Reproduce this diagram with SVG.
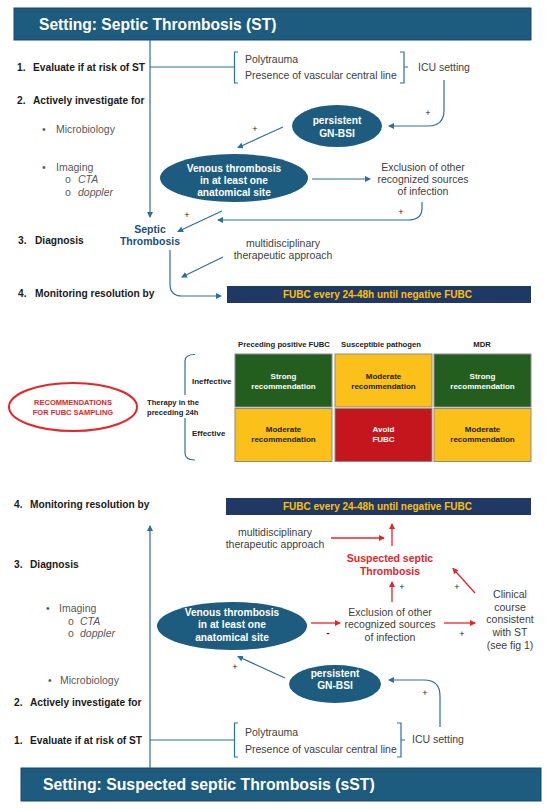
<svg xmlns="http://www.w3.org/2000/svg" width="550" height="809" viewBox="0 0 550 809">
<defs>
<marker id="ab" markerWidth="6" markerHeight="6" refX="5" refY="3" orient="auto" markerUnits="userSpaceOnUse"><path d="M0,0 L6,3 L0,6 z" fill="#2D6F9F"/></marker>
<marker id="ar" markerWidth="6" markerHeight="6" refX="5" refY="3" orient="auto" markerUnits="userSpaceOnUse"><path d="M0,0 L6,3 L0,6 z" fill="#E3262A"/></marker>
</defs>
<style>
text{font-family:"Liberation Sans",Arial,sans-serif}
.hdr{fill:#1D5B7F;stroke:#17496a;stroke-width:1}
.ht{fill:#fff;font-weight:bold}
.lb{font-weight:bold;font-size:10.2px;fill:#1a1a1a}
.gr{font-size:10.5px;fill:#595959}
.it{font-style:italic}
.br{font-size:10.5px;fill:#404040}
.ell{fill:#1D5B7F}
.et{fill:#fff;font-weight:bold;font-size:10.2px;text-anchor:middle}
.ln{fill:none;stroke:#2D6F9F;stroke-width:1.2}
.rl{fill:none;stroke:#E3262A;stroke-width:1.3}
.pl{font-size:9px;fill:#222;text-anchor:middle}
.fb{fill:#1F3864}
.ft{fill:#FFC000;font-weight:bold;font-size:10px}
.th{font-weight:bold;font-size:7.7px;fill:#222;text-anchor:middle}
.cell{stroke:#8c8c8c;stroke-width:1}
.cw{fill:#fff;font-weight:bold;font-size:8px;text-anchor:middle}
.cd{fill:#222;font-weight:bold;font-size:8px;text-anchor:middle}
.mid{text-anchor:middle}
</style>

<!-- ===== TOP SECTION ===== -->
<g id="top-header">
<rect class="hdr" x="14" y="8" width="517" height="32"/>
<text class="ht" x="39" y="29.5" font-size="15.6">Setting: Septic Thrombosis (ST)</text>
</g>

<g id="top-left-labels">
<text class="lb" x="17" y="71">1.</text><text class="lb" x="33" y="71">Evaluate if at risk of ST</text>
<text class="lb" x="17" y="104">2.</text><text class="lb" x="33" y="104">Actively investigate for</text>
<text class="gr" x="42" y="133">•</text><text class="gr" x="56" y="133">Microbiology</text>
<text class="gr" x="42" y="170.5">•</text><text class="gr" x="56" y="170.5">Imaging</text>
<text class="gr" x="65" y="182.5" font-size="9">o</text><text class="gr it" x="78" y="182.5">CTA</text>
<text class="gr" x="65" y="195.5" font-size="9">o</text><text class="gr it" x="78" y="195.5">doppler</text>
<text class="lb" x="18" y="243.5">3.</text><text class="lb" x="35" y="243.5">Diagnosis</text>
<text class="lb" x="18" y="296.5">4.</text><text class="lb" x="35" y="296.5">Monitoring resolution by</text>
</g>

<g id="top-risk-factors">
<path class="ln" d="M238,52 L234.5,52 L234.5,83 L238,83"/>
<text class="br" x="245" y="62.5">Polytrauma</text>
<text class="br" x="245" y="78.5">Presence of vascular central line</text>
<path class="ln" d="M400,52 L404,52 L404,83 L400,83 M404,67 L408,67"/>
<text class="br" x="418" y="70.5">ICU setting</text>
</g>

<g id="top-gnbsi">
<ellipse class="ell" cx="337" cy="126" rx="45" ry="21"/>
<text class="et" x="337" y="123.5">persistent</text>
<text class="et" x="337" y="136.5">GN-BSI</text>
</g>

<g id="top-venous">
<ellipse class="ell" cx="234" cy="178" rx="74" ry="24"/>
<text class="et" x="234" y="171.5">Venous thrombosis</text>
<text class="et" x="234" y="183.5">in at least one</text>
<text class="et" x="234" y="195.5">anatomical site</text>
</g>

<g id="top-exclusion">
<text class="br mid" x="423" y="170.5">Exclusion of other</text>
<text class="br mid" x="423" y="182.5">recognized sources</text>
<text class="br mid" x="423" y="194.5">of infection</text>
</g>

<g id="top-septic">
<text x="150" y="232.5" font-size="10.5" font-weight="bold" fill="#1F4E79" text-anchor="middle">Septic</text>
<text x="150" y="244.5" font-size="10.5" font-weight="bold" fill="#1F4E79" text-anchor="middle">Thrombosis</text>
</g>

<g id="top-multidisciplinary">
<text class="br mid" x="283" y="246.5">multidisciplinary</text>
<text class="br mid" x="283" y="258.5">therapeutic approach</text>
</g>

<g id="top-fubc">
<rect class="fb" x="227" y="286" width="304" height="17"/>
<text class="ft" x="283" y="298">FUBC every 24-48h until negative FUBC</text>
</g>

<g id="top-connectors">
<path class="ln" d="M150,40 L150,217" marker-end="url(#ab)"/>
<path class="ln" d="M150,67 L234.5,67"/>
<path class="ln" d="M444,80 L444,110 Q444,126 428,126 L389,126" marker-end="url(#ab)"/>
<text class="pl" x="428" y="116">+</text>
<path class="ln" d="M283,127 L238,147.5" marker-end="url(#ab)"/>
<text class="pl" x="255" y="132">+</text>
<path class="ln" d="M312,179 L370,179" marker-end="url(#ab)"/>
<path class="ln" d="M422,202 L422,208 Q422,220 408,220 L218,220" marker-end="url(#ab)"/>
<text class="pl" x="401" y="215">+</text>
<path class="ln" d="M222,211 L178,231.5" marker-end="url(#ab)"/>
<text class="pl" x="187" y="218">+</text>
<path class="ln" d="M223,257 L182,277" marker-end="url(#ab)"/>
<path class="ln" d="M170,250 L170,284 Q170,296 182,296 L221,296" marker-end="url(#ab)"/>
</g>

<!-- ===== MIDDLE SECTION ===== -->
<g id="recommendations">
<ellipse cx="73" cy="407" rx="64" ry="24" fill="none" stroke="#E3262A" stroke-width="2"/>
<text x="73" y="405" font-size="7.5" font-weight="bold" fill="#E3262A" text-anchor="middle">RECOMMENDATIONS</text>
<text x="73" y="415" font-size="7.5" font-weight="bold" fill="#E3262A" text-anchor="middle">FOR FUBC SAMPLING</text>
</g>

<g id="therapy">
<text x="147" y="405" font-size="7.6" font-weight="bold" fill="#222">Therapy in the</text>
<text x="147" y="415" font-size="7.6" font-weight="bold" fill="#222">preceding 24h</text>
<path class="ln" d="M195,354.5 Q185,354.5 185,361 L185,395 M185,418 L185,453 Q185,460 195,460"/>
<text x="192" y="384" font-size="8" font-weight="bold" fill="#222">Ineffective</text>
<text x="192" y="436" font-size="8" font-weight="bold" fill="#222">Effective</text>
</g>

<g id="table">
<text class="th" x="284" y="347">Preceding positive FUBC</text>
<text class="th" x="381" y="347">Susceptible pathogen</text>
<text class="th" x="482" y="347">MDR</text>
<rect class="cell" x="235" y="354" width="97" height="53" fill="#245E1E"/>
<rect class="cell" x="335" y="354" width="97" height="53" fill="#FBC01A"/>
<rect class="cell" x="434" y="354" width="97" height="53" fill="#245E1E"/>
<rect class="cell" x="235" y="408.5" width="97" height="53" fill="#FBC01A"/>
<rect class="cell" x="335" y="408.5" width="97" height="53" fill="#C4161C"/>
<rect class="cell" x="434" y="408.5" width="97" height="53" fill="#FBC01A"/>
<text class="cw" x="283.5" y="379">Strong</text><text class="cw" x="283.5" y="389">recommendation</text>
<text class="cd" x="383.5" y="379">Moderate</text><text class="cd" x="383.5" y="389">recommendation</text>
<text class="cw" x="482.5" y="379">Strong</text><text class="cw" x="482.5" y="389">recommendation</text>
<text class="cd" x="283.5" y="432">Moderate</text><text class="cd" x="283.5" y="442">recommendation</text>
<text class="cw" x="383.5" y="432">Avoid</text><text class="cw" x="383.5" y="442">FUBC</text>
<text class="cd" x="482.5" y="432">Moderate</text><text class="cd" x="482.5" y="442">recommendation</text>
</g>

<!-- ===== BOTTOM SECTION ===== -->
<g id="bottom-left-labels">
<text class="lb" x="14" y="507.5">4.</text><text class="lb" x="30" y="507.5">Monitoring resolution by</text>
<text class="lb" x="14" y="567.5">3.</text><text class="lb" x="30" y="567.5">Diagnosis</text>
<text class="gr" x="46" y="611.5">•</text><text class="gr" x="59" y="611.5">Imaging</text>
<text class="gr" x="68" y="624.5" font-size="9">o</text><text class="gr it" x="80" y="624.5">CTA</text>
<text class="gr" x="68" y="636.5" font-size="9">o</text><text class="gr it" x="80" y="636.5">doppler</text>
<text class="gr" x="48" y="683.5">•</text><text class="gr" x="60" y="683.5">Microbiology</text>
<text class="lb" x="14" y="705.5">2.</text><text class="lb" x="30" y="705.5">Actively investigate for</text>
<text class="lb" x="14" y="743.5">1.</text><text class="lb" x="30" y="743.5">Evaluate if at risk of ST</text>
</g>

<g id="bottom-fubc">
<rect class="fb" x="226" y="498" width="305" height="17"/>
<text class="ft" x="283" y="510">FUBC every 24-48h until negative FUBC</text>
</g>

<g id="bottom-multidisciplinary">
<text class="br mid" x="275" y="535.5">multidisciplinary</text>
<text class="br mid" x="275" y="547.5">therapeutic approach</text>
</g>

<g id="bottom-suspected">
<text x="390" y="561.5" font-size="10.5" font-weight="bold" fill="#E3262A" text-anchor="middle">Suspected septic</text>
<text x="390" y="574.5" font-size="10.5" font-weight="bold" fill="#E3262A" text-anchor="middle">Thrombosis</text>
</g>

<g id="bottom-venous">
<ellipse class="ell" cx="232" cy="626" rx="75" ry="24"/>
<text class="et" x="232" y="615.5">Venous thrombosis</text>
<text class="et" x="232" y="627.5">in at least one</text>
<text class="et" x="232" y="640.5">anatomical site</text>
</g>

<g id="bottom-exclusion">
<text class="br mid" x="390" y="615.5">Exclusion of other</text>
<text class="br mid" x="390" y="627.5">recognized sources</text>
<text class="br mid" x="390" y="640.5">of infection</text>
</g>

<g id="bottom-clinical">
<text class="br mid" x="510" y="597.5">Clinical</text>
<text class="br mid" x="510" y="610.5">course</text>
<text class="br mid" x="510" y="623">consistent</text>
<text class="br mid" x="510" y="636">with ST</text>
<text class="br mid" x="510" y="648.5">(see fig 1)</text>
</g>

<g id="bottom-gnbsi">
<ellipse class="ell" cx="335" cy="684" rx="46" ry="19"/>
<text class="et" x="335" y="676.5">persistent</text>
<text class="et" x="335" y="689">GN-BSI</text>
</g>

<g id="bottom-risk-factors">
<path class="ln" d="M238,723 L234.5,723 L234.5,757 L238,757"/>
<text class="br" x="245" y="735.5">Polytrauma</text>
<text class="br" x="245" y="752.5">Presence of vascular central line</text>
<path class="ln" d="M397,723 L401,723 L401,757 L397,757 M401,740 L405,740"/>
<text class="br" x="412" y="742.5">ICU setting</text>
</g>

<g id="bottom-header">
<rect class="hdr" x="21" y="768" width="520" height="33"/>
<text class="ht" x="43" y="790" font-size="15.8">Setting: Suspected septic Thrombosis (sST)</text>
</g>

<g id="bottom-connectors">
<path class="ln" d="M150,768 L150,526" marker-end="url(#ab)"/>
<path class="ln" d="M150,740 L234.5,740"/>
<path class="ln" d="M440,727 L440,696 Q440,680 424,680 L389,680" marker-end="url(#ab)"/>
<text class="pl" x="425" y="696">+</text>
<path class="ln" d="M285,678 L238,656.5" marker-end="url(#ab)"/>
<text class="pl" x="235" y="670">+</text>
<path class="rl" d="M331,538 L384,538" marker-end="url(#ar)"/>
<path class="rl" d="M392,546 L392,524" marker-end="url(#ar)"/>
<path class="rl" d="M392,602 L392,582" marker-end="url(#ar)"/>
<text class="pl" x="402" y="590">+</text>
<path class="rl" d="M311,623 L340,623" marker-end="url(#ar)"/>
<text x="328" y="636" font-size="10" font-weight="bold" fill="#333" text-anchor="middle">-</text>
<path class="rl" d="M444,623 L475,623" marker-end="url(#ar)"/>
<text class="pl" x="462" y="637">+</text>
<path class="rl" d="M475,593 L453,568.5" marker-end="url(#ar)"/>
<text class="pl" x="457" y="590">+</text>
</g>
</svg>
